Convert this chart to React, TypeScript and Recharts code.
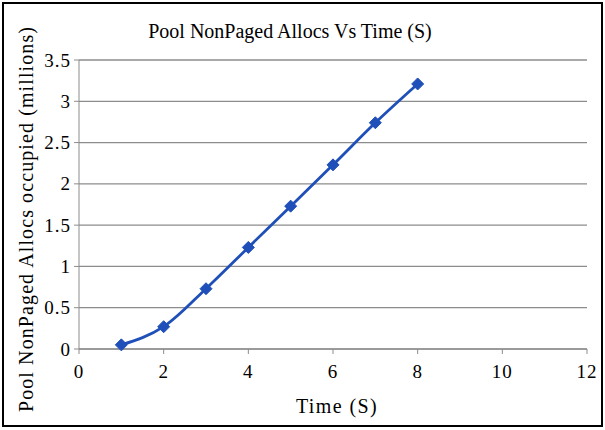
import React from "react";
import { LineChart, Line, XAxis, YAxis, CartesianGrid } from "recharts";

const times = [1, 2, 3, 4, 5, 6, 7, 8];
const allocs = [0.05, 0.27, 0.73, 1.23, 1.73, 2.23, 2.74, 3.21];
const xTicks = [0, 2, 4, 6, 8, 10, 12];
const yTicks = [0, 0.5, 1, 1.5, 2, 2.5, 3, 3.5];

const data = times.map((t, i) => ({ t, v: allocs[i] }));

const BLUE = "#1f4fb8";
const FONT = "'Liberation Serif', 'DejaVu Serif', serif";

const Diamond = (props: any) => {
  const { cx, cy, index } = props;
  if (cx == null || cy == null) return null;
  const r = 6;
  return (
    <polygon
      key={"d" + index}
      points={`${cx},${cy - r} ${cx + r},${cy} ${cx},${cy + r} ${cx - r},${cy}`}
      fill={BLUE}
      stroke={BLUE}
    />
  );
};

const tickStyle: React.CSSProperties = {
  fontFamily: FONT,
  fontSize: 19,
  letterSpacing: 1,
  fill: "#000",
};

const XTick = (props: any) => {
  const { x, y, payload } = props;
  return (
    <text x={x} y={y + 22} textAnchor="middle" style={tickStyle}>
      {String(payload.value)}
    </text>
  );
};

const YTick = (props: any) => {
  const { x, y, payload } = props;
  return (
    <text x={x - 1} y={y + 6.5} textAnchor="end" style={tickStyle}>
      {String(payload.value)}
    </text>
  );
};

export default function App() {
  return (
    <div
      style={{
        position: "absolute",
        left: 0,
        top: 0,
        width: 605,
        height: 430,
        background: "#fff",
        fontFamily: FONT,
      }}
    >
      <div
        style={{
          position: "absolute",
          left: 2,
          top: 2,
          width: 597,
          height: 421,
          border: "2px solid #000",
        }}
      />
      <LineChart
        width={605}
        height={430}
        data={data}
        margin={{ top: 60, right: 18, left: 29, bottom: 51 }}
        style={{ position: "absolute", left: 0, top: 0 }}
      >
        <CartesianGrid vertical={false} stroke="#8c8c8c" strokeWidth={1.3} />
        <XAxis
          dataKey="t"
          type="number"
          domain={[0, 12]}
          ticks={xTicks}
          height={30}
          stroke="#8c8c8c"
          tickLine={{ stroke: "#8c8c8c" }}
          tickSize={5}
          tick={(p: any) => <XTick {...p} />}
        />
        <YAxis
          type="number"
          domain={[0, 3.5]}
          ticks={yTicks}
          width={50}
          stroke="#8c8c8c"
          tickSize={5}
          tick={(p: any) => <YTick {...p} />}
        />
        <Line
          type="monotone"
          dataKey="v"
          stroke={BLUE}
          strokeWidth={2.8}
          dot={Diamond}
          activeDot={false}
          isAnimationActive={false}
        />
      </LineChart>
      <div
        style={{
          position: "absolute",
          left: 0,
          width: 580,
          top: 20,
          textAlign: "center",
          fontSize: 20,
          color: "#000",
        }}
      >
        Pool NonPaged Allocs Vs Time (S)
      </div>
      <div
        style={{
          position: "absolute",
          left: 79,
          width: 516,
          top: 395,
          textAlign: "center",
          fontSize: 20,
          color: "#000",
          letterSpacing: 1.4,
        }}
      >
        Time (S)
      </div>
      <div
        style={{
          position: "absolute",
          left: 26 - 200,
          top: 219 - 12,
          width: 400,
          height: 24,
          lineHeight: "24px",
          textAlign: "center",
          fontSize: 20,
          color: "#000",
          letterSpacing: 1.1,
          transform: "rotate(-90deg)",
          whiteSpace: "nowrap",
        }}
      >
        Pool NonPaged Allocs occupied (millions)
      </div>
    </div>
  );
}
